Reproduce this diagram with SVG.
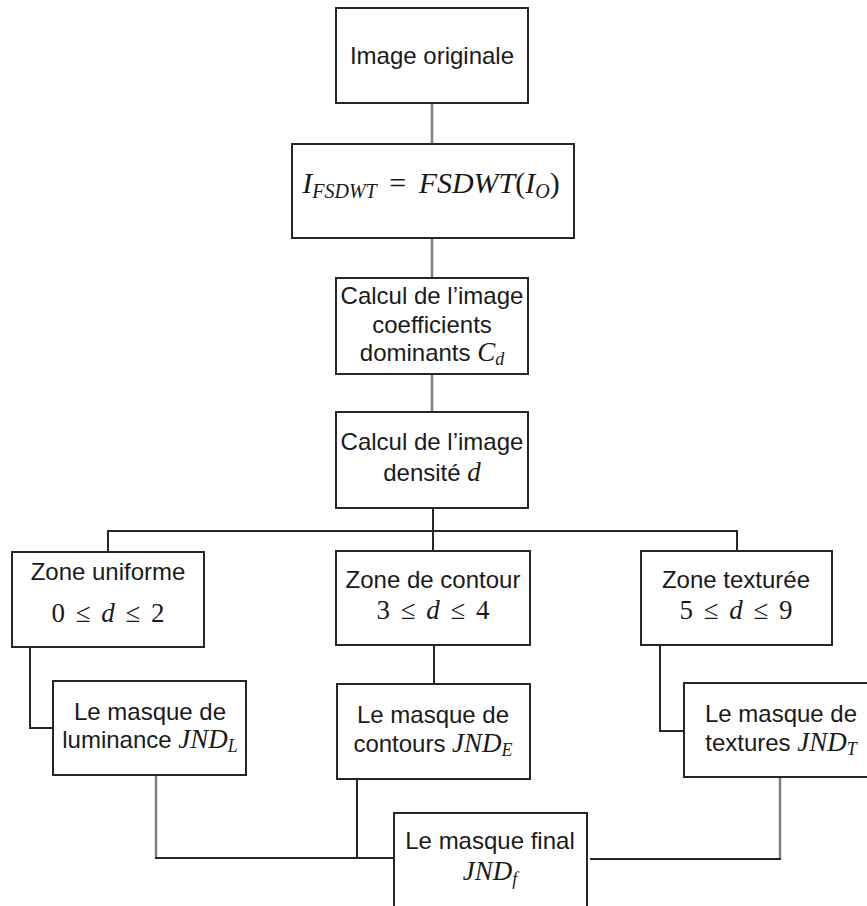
<svg xmlns="http://www.w3.org/2000/svg" width="867" height="906" viewBox="0 0 867 906">
<style>
  .box { fill: #ffffff; stroke: #262626; stroke-width: 2; }
  .lbl { font-family: "Liberation Sans", Arial, sans-serif; font-size: 24px; fill: #1a1a1a; text-anchor: middle; }
  .m { font-family: "Liberation Serif", "Times New Roman", serif; font-style: italic; font-size: 27px; }
  .mu { font-family: "Liberation Serif", "Times New Roman", serif; font-style: normal; font-size: 27px; }
  .sub { font-family: "Liberation Serif", "Times New Roman", serif; font-style: italic; font-size: 18px; }
  .fm { font-family: "Liberation Serif", "Times New Roman", serif; font-style: italic; font-size: 30px; }
  .fu { font-family: "Liberation Serif", "Times New Roman", serif; font-style: normal; font-size: 30px; }
  .fs { font-family: "Liberation Serif", "Times New Roman", serif; font-style: italic; font-size: 20px; }
  .c1 { fill: none; stroke: #7f7f7f; stroke-width: 2.5; }
  .c2 { fill: none; stroke: #262626; stroke-width: 2; }
</style>
<rect width="867" height="906" fill="#ffffff"/>

<g id="connectors">
  <path class="c1" d="M432,103 V144"/>
  <path class="c1" d="M432,238 V278"/>
  <path class="c1" d="M432,374 V412"/>
  <path class="c2" d="M433,508 V551"/>
  <path class="c2" d="M108,552 V531 H737 V551"/>
  <path class="c2" d="M30,647 V728 H53"/>
  <path class="c2" d="M434,645 V684"/>
  <path class="c2" d="M660,645 V731 H684"/>
  <path class="c1" d="M156,775 V858"/>
  <path class="c2" d="M155,858 H394"/>
  <path class="c2" d="M357,779 V858"/>
  <path class="c1" d="M780,777 V859"/>
  <path class="c2" d="M781,859 H590"/>
</g>

<g id="n1">
  <rect class="box" x="336" y="8" width="192" height="95"/>
  <text class="lbl" x="432" y="64">Image originale</text>
</g>

<g id="n2">
  <rect class="box" x="292" y="144" width="282" height="94"/>
  <text class="lbl" x="431" y="193" word-spacing="5"><tspan class="fm">I</tspan><tspan class="fs" dy="5">FSDWT</tspan><tspan class="fu" dy="-5"> = </tspan><tspan class="fm">FSDWT</tspan><tspan class="fu">(</tspan><tspan class="fm">I</tspan><tspan class="fs" dy="5">O</tspan><tspan class="fu" dy="-5">)</tspan></text>
</g>

<g id="n3">
  <rect class="box" x="336" y="278" width="192" height="96"/>
  <text class="lbl" x="432" y="304">Calcul de l’image</text>
  <text class="lbl" x="432" y="333">coefficients</text>
  <text class="lbl" x="432" y="361">dominants <tspan class="m">C</tspan><tspan class="sub" dy="4">d</tspan></text>
</g>

<g id="n4">
  <rect class="box" x="336" y="412" width="192" height="96"/>
  <text class="lbl" x="432" y="450">Calcul de l’image</text>
  <text class="lbl" x="432" y="481">densité <tspan class="m">d</tspan></text>
</g>

<g id="n5a">
  <rect class="box" x="12" y="552" width="192" height="95"/>
  <text class="lbl" x="108" y="580">Zone uniforme</text>
  <text class="lbl" x="108" y="622" word-spacing="4"><tspan class="mu">0 ≤ </tspan><tspan class="m">d</tspan><tspan class="mu"> ≤ 2</tspan></text>
</g>

<g id="n5b">
  <rect class="box" x="336" y="551" width="194" height="94"/>
  <text class="lbl" x="433" y="588">Zone de contour</text>
  <text class="lbl" x="433" y="619" word-spacing="4"><tspan class="mu">3 ≤ </tspan><tspan class="m">d</tspan><tspan class="mu"> ≤ 4</tspan></text>
</g>

<g id="n5c">
  <rect class="box" x="641" y="551" width="191" height="94"/>
  <text class="lbl" x="736" y="588">Zone texturée</text>
  <text class="lbl" x="736" y="619" word-spacing="4"><tspan class="mu">5 ≤ </tspan><tspan class="m">d</tspan><tspan class="mu"> ≤ 9</tspan></text>
</g>

<g id="n6a">
  <rect class="box" x="53" y="681" width="193" height="94"/>
  <text class="lbl" x="150" y="720">Le masque de</text>
  <text class="lbl" x="150" y="748">luminance <tspan class="m">JND</tspan><tspan class="sub" dy="4">L</tspan></text>
</g>

<g id="n6b">
  <rect class="box" x="337" y="684" width="193" height="95"/>
  <text class="lbl" x="433" y="723">Le masque de</text>
  <text class="lbl" x="433" y="752">contours <tspan class="m">JND</tspan><tspan class="sub" dy="4">E</tspan></text>
</g>

<g id="n6c">
  <rect class="box" x="684" y="683" width="194" height="94"/>
  <text class="lbl" x="781" y="722">Le masque de</text>
  <text class="lbl" x="781" y="751">textures <tspan class="m">JND</tspan><tspan class="sub" dy="4">T</tspan></text>
</g>

<g id="n7">
  <rect class="box" x="394" y="813" width="193" height="110"/>
  <text class="lbl" x="490" y="849">Le masque final</text>
  <text class="lbl" x="490" y="880"><tspan class="m">JND</tspan><tspan class="sub" dy="5">f</tspan></text>
</g>
</svg>
